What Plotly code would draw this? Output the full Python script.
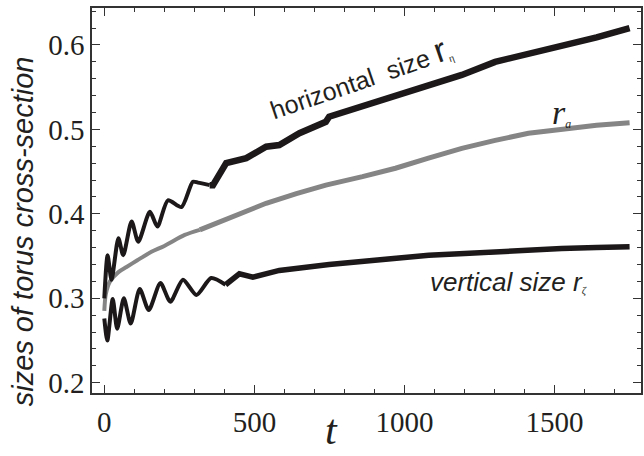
import plotly.graph_objects as go

# ---- data ----
t_hor = [0, 11, 24, 47, 63, 91, 113, 152, 177, 212, 257, 295, 312, 351, 362, 406, 450, 473,
         539, 583, 650, 738, 749, 860, 970, 1080, 1191, 1302, 1413, 1522, 1640, 1750]
r_hor = [0.300, 0.351, 0.322, 0.371, 0.351, 0.391, 0.367, 0.4025, 0.385, 0.416, 0.408, 0.438, 0.437,
         0.434, 0.434, 0.460, 0.464, 0.466, 0.4795, 0.4815, 0.4955, 0.509, 0.515, 0.527, 0.539,
         0.551, 0.5645, 0.580, 0.589, 0.598, 0.609, 0.620]

t_avg = [0, 5, 19, 47, 74, 110, 157, 200, 268, 318, 400, 467, 539, 640, 738, 860, 970,
         1080, 1191, 1302, 1413, 1520, 1640, 1750]
r_avg = [0.285, 0.305, 0.320, 0.331, 0.337, 0.345, 0.355, 0.362, 0.375, 0.381, 0.393, 0.4025,
         0.4125, 0.424, 0.434, 0.444, 0.454, 0.466, 0.4776, 0.487, 0.4955, 0.500, 0.505, 0.508]

t_ver = [0, 10, 28, 43, 65, 88, 118, 148, 187, 220, 262, 307, 356, 404, 450, 495, 583, 749,
         900, 1081, 1200, 1302, 1420, 1523, 1640, 1750]
r_ver = [0.276, 0.250, 0.299, 0.264, 0.300, 0.270, 0.311, 0.286, 0.318, 0.296, 0.322, 0.304,
         0.324, 0.316, 0.329, 0.325, 0.333, 0.340, 0.345, 0.351, 0.353, 0.355, 0.357, 0.359, 0.360, 0.361]

x_ticks = [0, 500, 1000, 1500]
y_ticks = [0.2, 0.3, 0.4, 0.5, 0.6]

SERIF = "Liberation Serif, Times New Roman, serif"
SANS = "Liberation Sans, Arial, sans-serif"
INK = "#231f20"
BLACK = "#1c1819"
GRAY = "#858585"

# split index: oscillating start (thin, smooth) vs noisy later part (thick band)
H_SPLIT = t_hor.index(351)
V_SPLIT = t_ver.index(404)
A_SPLIT = t_avg.index(318)

fig = go.Figure()
fig.add_trace(go.Scatter(x=t_avg[:A_SPLIT + 1], y=r_avg[:A_SPLIT + 1], mode="lines",
                         line=dict(color=GRAY, width=4, shape="spline", smoothing=0.8), showlegend=False))
fig.add_trace(go.Scatter(x=t_avg[A_SPLIT:], y=r_avg[A_SPLIT:], mode="lines",
                         line=dict(color=GRAY, width=5), showlegend=False))
fig.add_trace(go.Scatter(x=t_hor[:H_SPLIT + 1], y=r_hor[:H_SPLIT + 1], mode="lines",
                         line=dict(color=BLACK, width=4, shape="spline", smoothing=0.7), showlegend=False))
fig.add_trace(go.Scatter(x=t_hor[H_SPLIT:], y=r_hor[H_SPLIT:], mode="lines",
                         line=dict(color=BLACK, width=6.5), showlegend=False))
fig.add_trace(go.Scatter(x=t_ver[:V_SPLIT + 1], y=r_ver[:V_SPLIT + 1], mode="lines",
                         line=dict(color=BLACK, width=4, shape="spline", smoothing=0.7), showlegend=False))
fig.add_trace(go.Scatter(x=t_ver[V_SPLIT:], y=r_ver[V_SPLIT:], mode="lines",
                         line=dict(color=BLACK, width=5.5), showlegend=False))

tick_font = dict(family=SERIF, size=29, color=INK)

fig.update_xaxes(range=[-41, 1788], tickvals=x_ticks, ticktext=[str(v) for v in x_ticks],
                 tickfont=tick_font, ticklabelstandoff=2,
                 showgrid=False, zeroline=False, showline=True, linecolor="#333333", linewidth=1.5,
                 mirror="ticks", ticks="inside", ticklen=8, tickwidth=1.2, tickcolor="#333333",
                 minor=dict(dtick=100, tick0=0, ticks="inside", ticklen=4, tickcolor="#333333", tickwidth=1.2))
fig.update_yaxes(range=[0.1878, 0.6438], tickvals=y_ticks, ticktext=[f"{v:.1f}" for v in y_ticks],
                 tickfont=tick_font,
                 showgrid=False, zeroline=False, showline=True, linecolor="#333333", linewidth=1.5,
                 mirror="ticks", ticks="inside", ticklen=8, tickwidth=1.2, tickcolor="#333333",
                 minor=dict(dtick=0.02, tick0=0.2, ticks="inside", ticklen=4, tickcolor="#333333",
                            tickwidth=1.2))

# axis titles
fig.add_annotation(xref="paper", yref="paper", x=-0.125, y=0.421, xanchor="center", yanchor="middle",
                   showarrow=False, textangle=-90,
                   text="<i>sizes of torus cross-section</i>",
                   font=dict(family=SANS, size=29, color=INK))
fig.add_annotation(xref="paper", yref="paper", x=0.4356, y=-0.160, xanchor="center", yanchor="bottom",
                   showarrow=False,
                   text="<i>t</i>", font=dict(family=SERIF, size=42, color=INK))

# curve labels
fig.add_annotation(x=855, y=0.562, xref="x", yref="y", showarrow=False, textangle=-19,
                   text="horizontal  size <span style='font-size:34px'>r</span>"
                        "<span style='font-family:Liberation Serif;font-size:15px'><sub>η</sub></span>",
                   font=dict(family=SANS, size=25, color=INK))
fig.add_annotation(x=1522, y=0.5206, xref="x", yref="y", showarrow=False,
                   text="<i>r</i><span style='font-size:17px'><sub><i>a</i></sub></span>",
                   font=dict(family=SERIF, size=34, color=INK))
fig.add_annotation(x=1347, y=0.319, xref="x", yref="y", showarrow=False,
                   text="<i>vertical size r</i><span style='font-family:Liberation Serif;font-size:15px'>"
                        "<sub><i>ζ</i></sub></span>",
                   font=dict(family=SANS, size=26, color=INK))

fig.update_layout(width=644, height=456, margin=dict(l=92, r=1, t=8, b=63),
                  font=dict(family=SERIF, color=INK),
                  plot_bgcolor="white", paper_bgcolor="white")

fig.write_html("out.html")
